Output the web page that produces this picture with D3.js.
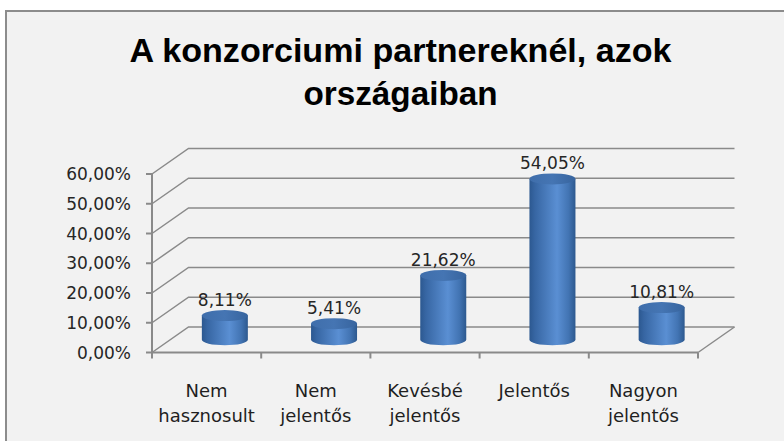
<!DOCTYPE html>
<html>
<head>
<meta charset="utf-8">
<script src="https://cdn.jsdelivr.net/npm/d3@7"></script>
<style>
  html, body { margin: 0; padding: 0; background: #ffffff; }
  svg { display: block; }
</style>
</head>
<body>
<svg id="chart" width="784" height="441"></svg>
<script>
"use strict";
// chart data
var titleLines = ["A konzorciumi partnereknél, azok", "országaiban"];
var categories = [["Nem", "hasznosult"], ["Nem", "jelentős"], ["Kevésbé", "jelentős"], ["Jelentős"], ["Nagyon", "jelentős"]];
var values = [8.11, 5.41, 21.62, 54.05, 10.81];
var yTicks = [0, 10, 20, 30, 40, 50, 60];

var svg = d3.select("#chart");
var fmt = function (v) { return d3.format(".2f")(v).replace(".", ",") + "%"; };

// depth offset of the 3d box
var dx = 36.5, dy = -25.5;
var x = d3.scaleBand().domain(d3.range(values.length)).range([152, 698]);
var y = d3.scaleLinear().domain([0, 60]).range([352.5, 174]);

var defs = svg.append("defs");
var bodyGrad = defs.append("linearGradient").attr("id", "cylBody");
[[0, "#2c5890"], [0.12, "#3766a3"], [0.6, "#5a8fd3"], [0.85, "#4274b3"], [1, "#2d598f"]].forEach(function (s) {
    bodyGrad.append("stop").attr("offset", s[0]).attr("stop-color", s[1]);
});
var capGrad = defs.append("linearGradient").attr("id", "cylTop");
[[0, "#3f6eab"], [0.5, "#4575b3"], [1, "#37649e"]].forEach(function (s) {
    capGrad.append("stop").attr("offset", s[0]).attr("stop-color", s[1]);
});

// frame and background
svg.append("rect").attr("x", 6).attr("y", 11).attr("width", 800).attr("height", 450)
    .attr("fill", "#f2f2f2").attr("stroke", "#8c8c8c").attr("stroke-width", 2);

// title
svg.selectAll("text.title").data(titleLines).enter().append("text")
    .attr("class", "title")
    .attr("x", 400.5).attr("y", function (d, i) { return 62 + i * 43; })
    .attr("text-anchor", "middle")
    .attr("textLength", function (d, i) { return i === 0 ? 542 : 194; })
    .attr("lengthAdjust", "spacingAndGlyphs")
    .style("font-family", "'Liberation Sans', Arial, sans-serif")
    .style("font-weight", "bold").style("font-size", "33px").style("fill", "#000")
    .text(function (d) { return d; });

var grid = "#8a8a8a";
var x0 = x.range()[0], x1 = x.range()[1];

// gridlines on side wall + back wall
svg.selectAll("path.grid").data(yTicks).enter().append("path")
    .attr("class", "grid")
    .attr("d", function (t) {
        var yy = y(t);
        return "M" + x0 + "," + yy + "L" + (x0 + dx) + "," + (yy + dy) + "L" + (x1 + dx) + "," + (yy + dy);
    })
    .attr("fill", "none").attr("stroke", grid).attr("stroke-width", 1.5);

// floor right edge
svg.append("path")
    .attr("d", "M" + x1 + "," + y(0) + "L" + (x1 + dx) + "," + (y(0) + dy))
    .attr("fill", "none").attr("stroke", grid).attr("stroke-width", 1.5);

// front axes
svg.append("line").attr("x1", x0).attr("x2", x0).attr("y1", y(60)).attr("y2", y(0))
    .attr("stroke", grid).attr("stroke-width", 2);
svg.append("line").attr("x1", x0).attr("x2", x1).attr("y1", y(0)).attr("y2", y(0))
    .attr("stroke", grid).attr("stroke-width", 2);

svg.selectAll("line.ytick").data(yTicks).enter().append("line")
    .attr("class", "ytick")
    .attr("x1", x0 - 6).attr("x2", x0).attr("y1", function (t) { return y(t); }).attr("y2", function (t) { return y(t); })
    .attr("stroke", grid).attr("stroke-width", 2);

var edges = d3.range(values.length).map(function (i) { return x(i); }).concat([x1]);
svg.selectAll("line.xtick").data(edges).enter().append("line")
    .attr("class", "xtick")
    .attr("x1", function (d) { return d; }).attr("x2", function (d) { return d; })
    .attr("y1", y(0)).attr("y2", y(0) + 6)
    .attr("stroke", grid).attr("stroke-width", 2);

// y labels
svg.selectAll("text.ylab").data(yTicks).enter().append("text")
    .attr("class", "ylab")
    .attr("x", 131).attr("y", function (t) { return y(t); })
    .attr("dy", "0.36em").attr("text-anchor", "end")
    .style("font-family", "'DejaVu Sans', sans-serif").style("font-size", "17px").style("fill", "#262626")
    .text(fmt);

// category labels
var cat = svg.selectAll("text.xlab").data(categories).enter().append("text")
    .attr("class", "xlab")
    .attr("x", function (d, i) { return x(i) + x.bandwidth() / 2; })
    .attr("y", 396.5)
    .attr("text-anchor", "middle")
    .style("font-family", "'DejaVu Sans', sans-serif").style("font-size", "18px").style("fill", "#1f1f1f");
cat.each(function (lines, i) {
    var t = d3.select(this);
    lines.forEach(function (l, j) {
        t.append("tspan").attr("x", x(i) + x.bandwidth() / 2).attr("y", 396.5 + j * 25).text(l);
    });
});

// cylinders
var rx = 23, ry = 5.5;
var cyl = svg.selectAll("g.cyl").data(values).enter().append("g").attr("class", "cyl");
cyl.append("path")
    .attr("d", function (v, i) {
        var cx = x(i) + x.bandwidth() / 2 + dx / 2;
        var yb = y(0) + dy / 2, yt = y(v) + dy / 2;
        return "M" + (cx - rx) + "," + yt + "L" + (cx - rx) + "," + yb +
            "A" + rx + "," + ry + " 0 0 0 " + (cx + rx) + "," + yb +
            "L" + (cx + rx) + "," + yt + "Z";
    })
    .attr("fill", "url(#cylBody)");
cyl.append("ellipse")
    .attr("cx", function (v, i) { return x(i) + x.bandwidth() / 2 + dx / 2; })
    .attr("cy", function (v) { return y(v) + dy / 2; })
    .attr("rx", rx).attr("ry", ry)
    .attr("fill", "url(#cylTop)");

// value labels
svg.selectAll("text.val").data(values).enter().append("text")
    .attr("class", "val")
    .attr("x", function (v, i) { return x(i) + x.bandwidth() / 2 + dx / 2; })
    .attr("y", function (v) { return y(v) + dy / 2 - ry - 4; })
    .attr("text-anchor", "middle")
    .style("font-family", "'DejaVu Sans', sans-serif").style("font-size", "17px").style("fill", "#262626")
    .text(fmt);
</script>
</body>
</html>
